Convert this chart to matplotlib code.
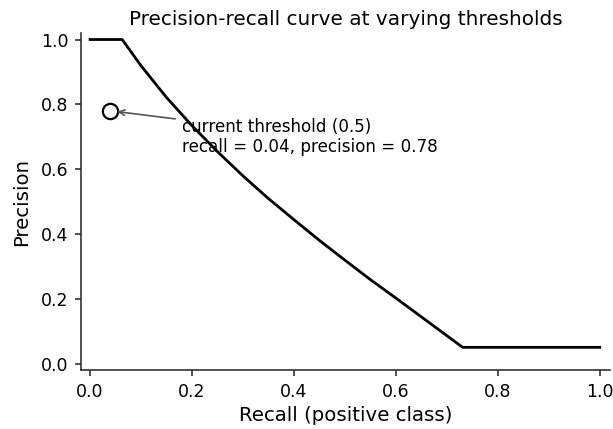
import matplotlib
matplotlib.use("Agg")
import matplotlib.pyplot as plt

# valores
recall = [0.0, 0.063, 0.10, 0.15, 0.20, 0.25, 0.30, 0.35, 0.40, 0.45, 0.50, 0.55, 0.60, 0.65, 0.731, 1.0]
precision = [1.0, 1.0, 0.919, 0.821, 0.734, 0.654, 0.579, 0.509, 0.444, 0.380, 0.319, 0.259, 0.202, 0.144, 0.05, 0.05]
cur_recall = 0.04
cur_precision = 0.78
cur_threshold = 0.5

fig = plt.figure(figsize=(6.13, 4.29), dpi=100)
ax = fig.add_axes([0.132, 0.1375, 0.863, 0.7855])

ax.plot(recall, precision, color="black", lw=2)
ax.plot(cur_recall, cur_precision, "o", ms=11, mfc="white", mec="black", mew=1.6)

# seta e texto do limiar atual
ax.annotate("", xy=(cur_recall, cur_precision), xytext=(0.167, 0.755),
            arrowprops=dict(arrowstyle="->", color="#555555", lw=1.2, shrinkA=0, shrinkB=5))
ax.text(0.18, 0.70, f"current threshold ({cur_threshold})\nrecall = {cur_recall:.2f}, precision = {cur_precision:.2f}",
        fontsize=12.1, ha="left", va="center", linespacing=1.15)

ax.set_xlim(-0.018, 1.02)
ax.set_ylim(-0.02, 1.02)
ax.set_xticks([0, 0.2, 0.4, 0.6, 0.8, 1.0])
ax.set_yticks([0, 0.2, 0.4, 0.6, 0.8, 1.0])
ax.tick_params(labelsize=12.5, color="#333333", length=4, width=1.2, pad=5)
for s in ["top", "right"]:
    ax.spines[s].set_visible(False)
for s in ["left", "bottom"]:
    ax.spines[s].set_color("#333333")
    ax.spines[s].set_linewidth(1.2)

ax.set_xlabel("Recall (positive class)", fontsize=14.2, labelpad=4)
ax.set_ylabel("Precision", fontsize=14.2, labelpad=7)
ax.set_title("Precision-recall curve at varying thresholds", fontsize=14.4)

fig.savefig("out.png", dpi=100)
